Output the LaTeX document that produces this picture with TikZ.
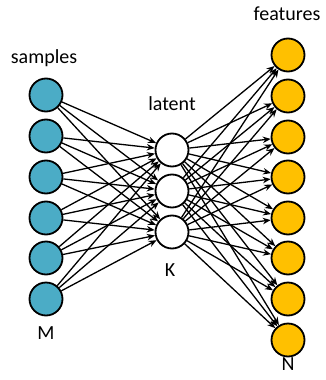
\documentclass[tikz,border=0pt]{standalone}
\usepackage{fontspec}
\setmainfont{Carlito}
\usetikzlibrary{arrows.meta}
\definecolor{tealfill}{HTML}{4BACC6}
\definecolor{goldfill}{HTML}{FFC000}
\tikzset{
  unit/.style={circle, draw=black, line width=1.8pt, minimum size=33pt, inner sep=0pt},
  inunit/.style={unit, fill=tealfill},
  midunit/.style={unit, fill=white},
  outunit/.style={unit, fill=goldfill},
  link/.style={line width=1.3pt, -{Stealth[length=8pt,width=6.5pt]}},
  lbl/.style={font=\fontsize{20}{24}\selectfont, inner sep=0pt}
}
\begin{document}
\begin{tikzpicture}[x=1pt,y=-1pt]
  \useasboundingbox (0,0) rectangle (325,380);
  % input layer
  \foreach \i/\y in {1/95,2/136,3/177,4/218,5/258,6/299}
    \node[inunit] (s\i) at (46,\y) {};
  % latent layer
  \foreach \j/\y in {1/150,2/191,3/232}
    \node[midunit] (l\j) at (172,\y) {};
  % output layer
  \foreach \k/\y in {1/55,2/96,3/137,4/177,5/218,6/258,7/299,8/340}
    \node[outunit] (f\k) at (288,\y) {};
  % connections
  \foreach \i in {1,...,6}
    \foreach \j in {1,2,3}
      \draw[link] (s\i) -- (l\j);
  \foreach \j in {1,2,3}
    \foreach \k in {1,...,8}
      \draw[link] (l\j) -- (f\k);
  % labels
  \node[lbl] (tsamples) at (44,58) {samples};
  \node[lbl] (tlatent) at (172,104) {latent};
  \node[lbl] (tfeatures) at (287,14) {features};
  \node[lbl] (tM) at (46,333) {M};
  \node[lbl] (tK) at (170,270) {K};
  \node[lbl] (tN) at (288,364) {N};
\end{tikzpicture}
\end{document}
